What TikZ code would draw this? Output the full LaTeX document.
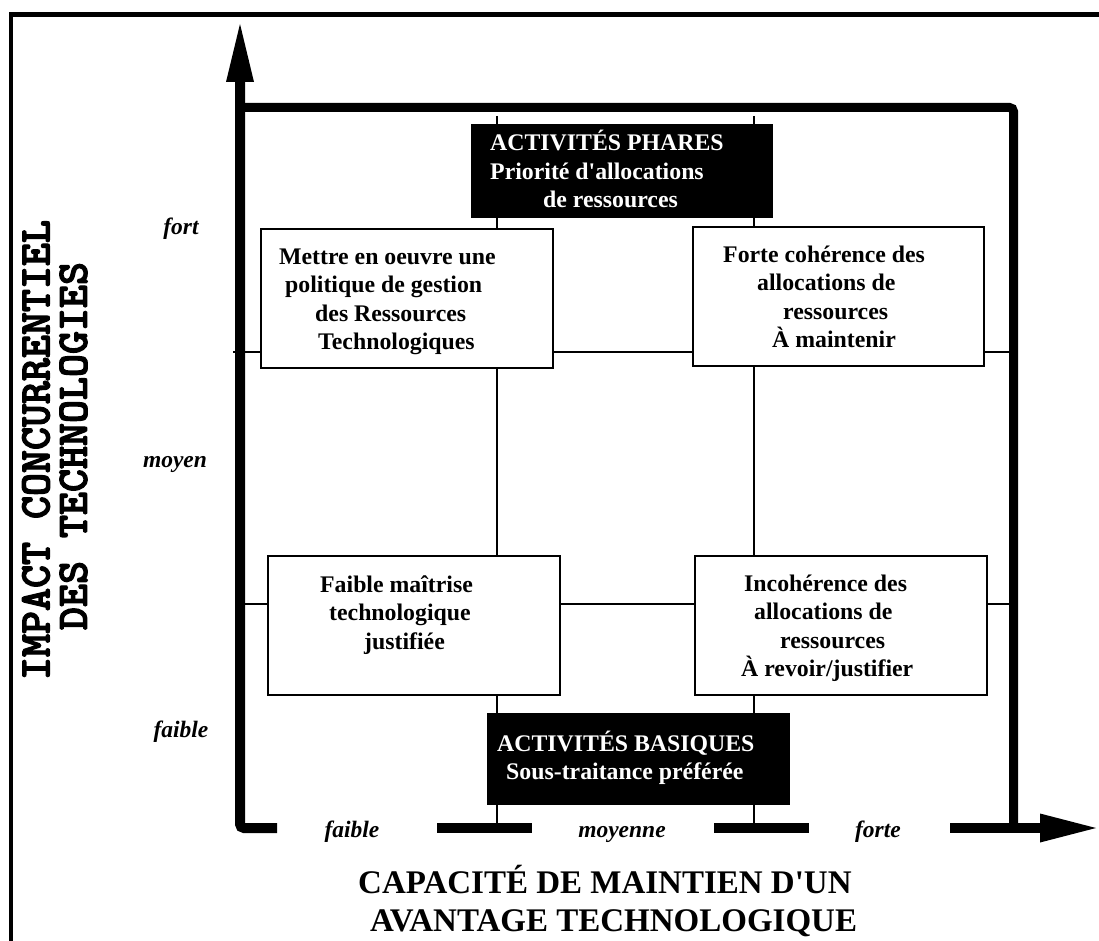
\documentclass[tikz,border=0pt]{standalone}
\usepackage{fontspec}
\setmainfont{Liberation Serif}
% left-aligned block of lines whose baseline is the first line's baseline
\newcommand\linesat[1]{\begin{tabular}[t]{@{}l@{}}#1\end{tabular}}
% heavier type: glyphs filled and outlined
\newcommand\heavytext[1]{\special{pdf:literal direct 2 Tr 1.2 w}#1\special{pdf:literal direct 0 Tr}}

\begin{document}
\begin{tikzpicture}[x=1pt,y=-1pt,
  axis/.style={line width=10pt},
  frame/.style={line width=4.5pt},
  gridline/.style={line width=2pt},
  cell/.style={draw, line width=2pt, fill=white, anchor=north west, inner sep=0pt},
  darkcell/.style={fill=black, anchor=north west, inner sep=0pt},
  celltext/.style={anchor=base west, inner sep=0pt, font=\bfseries\fontsize{23.8}{28.5}\selectfont},
  level/.style={anchor=base, inner sep=0pt, font=\bfseries\itshape\fontsize{23.5}{28}\selectfont},
  bigtitle/.style={anchor=base west, inner sep=0pt, font=\bfseries\fontsize{33}{38}\selectfont},
  sidetitle/.style={rotate=90, inner sep=0pt, font=\ttfamily\bfseries\fontsize{43.8}{46}\selectfont}
]
\useasboundingbox (0,0) rectangle (1099,941);
\fill[white] (0,0) rectangle (1099,941);

% grid line end points
\coordinate (colA-top) at (497,116);
\coordinate (colA-bot) at (497,828);
\coordinate (colB-top) at (754,116);
\coordinate (colB-bot) at (754,828);
\coordinate (rowA-l) at (233,352);
\coordinate (rowA-r) at (1013,352);
\coordinate (rowB-l) at (240,604);
\coordinate (rowB-r) at (1013,604);

% thin grid behind the cells
\draw[gridline] (colA-top) -- (colA-bot);
\draw[gridline] (colB-top) -- (colB-bot);
\draw[gridline] (rowA-l) -- (rowA-r);
\draw[gridline] (rowB-l) -- (rowB-r);

% cells
\node[cell, minimum width=292pt, minimum height=139pt] (mettre) at (260,228) {};
\node[cell, minimum width=291pt, minimum height=139pt] (forte) at (692,226) {};
\node[cell, minimum width=292pt, minimum height=139pt] (faible) at (267,555) {};
\node[cell, minimum width=292pt, minimum height=139pt] (incoh) at (694,555) {};
\node[darkcell, minimum width=302pt, minimum height=94pt] (phares) at (471,124) {};
\node[darkcell, minimum width=303pt, minimum height=92pt] (basiques) at (487,713) {};

% cell texts
\node[celltext, text=white] (pharesT) at (490,151) {\linesat{ACTIVITÉS PHARES\\Priorité d\textquotesingle allocations\\\hspace*{53pt}de ressources}};
\node[celltext] (mettreT) at (279,264) {\linesat{Mettre en oeuvre une\\\hspace*{6pt}politique de gestion\\\hspace*{36pt}des Ressources\\\hspace*{39pt}Technologiques}};
\node[celltext] (forteT) at (723,262) {\linesat{Forte cohérence des\\\hspace*{34pt}allocations de\\\hspace*{60pt}ressources\\\hspace*{49pt}À maintenir}};
\node[celltext] (faibleT) at (320,592) {\linesat{Faible maîtrise\\\hspace*{9pt}technologique\\\hspace*{44pt}justifiée}};
\node[celltext] (incohT) at (744,591) {\linesat{Incohérence des\\\hspace*{10pt}allocations de\\\hspace*{36pt}ressources\\\hspace*{-3pt}À revoir/justifier}};
\node[celltext, text=white] (basiquesT) at (497,751) {\linesat{ACTIVITÉS BASIQUES\\\hspace*{9pt}Sous-traitance préférée}};

% outer frame
\draw[frame] (11,941) -- (11,14.5) -- (1099,14.5);

% vertical axis with arrow
\draw[axis, rounded corners=4pt] (240,80) -- (240,828) -- (277,828);
\fill (240,24) -- (254,82) -- (226,82) -- cycle;
% top and right borders of the matrix
\draw[line width=9pt, rounded corners=4pt] (235,107.5) -- (1013.5,107.5) -- (1013.5,828);
% horizontal axis, broken by its labels
\draw[axis] (437,828) -- (532,828);
\draw[axis] (714,828) -- (809,828);
\draw[axis] (950,828) -- (1042,828);
\fill (1096,828) -- (1040,813.5) -- (1040,842.5) -- cycle;

% level labels
\node[level] (yfort) at (181,235) {fort};
\node[level] (ymoyen) at (175,467) {moyen};
\node[level] (yfaible) at (181,737) {faible};
\node[level] (xfaible) at (352,837) {faible};
\node[level] (xmoyenne) at (622,837) {moyenne};
\node[level] (xforte) at (878,837) {forte};

% axis titles
\node[bigtitle] (xtitle1) at (358,893) {CAPACITÉ DE MAINTIEN D\textquotesingle UN};
\node[bigtitle] (xtitle2) at (370,931) {AVANTAGE TECHNOLOGIQUE};
\node[sidetitle] (ytitle1) at (36,450) {\heavytext{IMPACT CONCURRENTIEL}};
\node[sidetitle] (ytitle2) at (73.5,446) {\heavytext{DES TECHNOLOGIES}};
\end{tikzpicture}
\end{document}
